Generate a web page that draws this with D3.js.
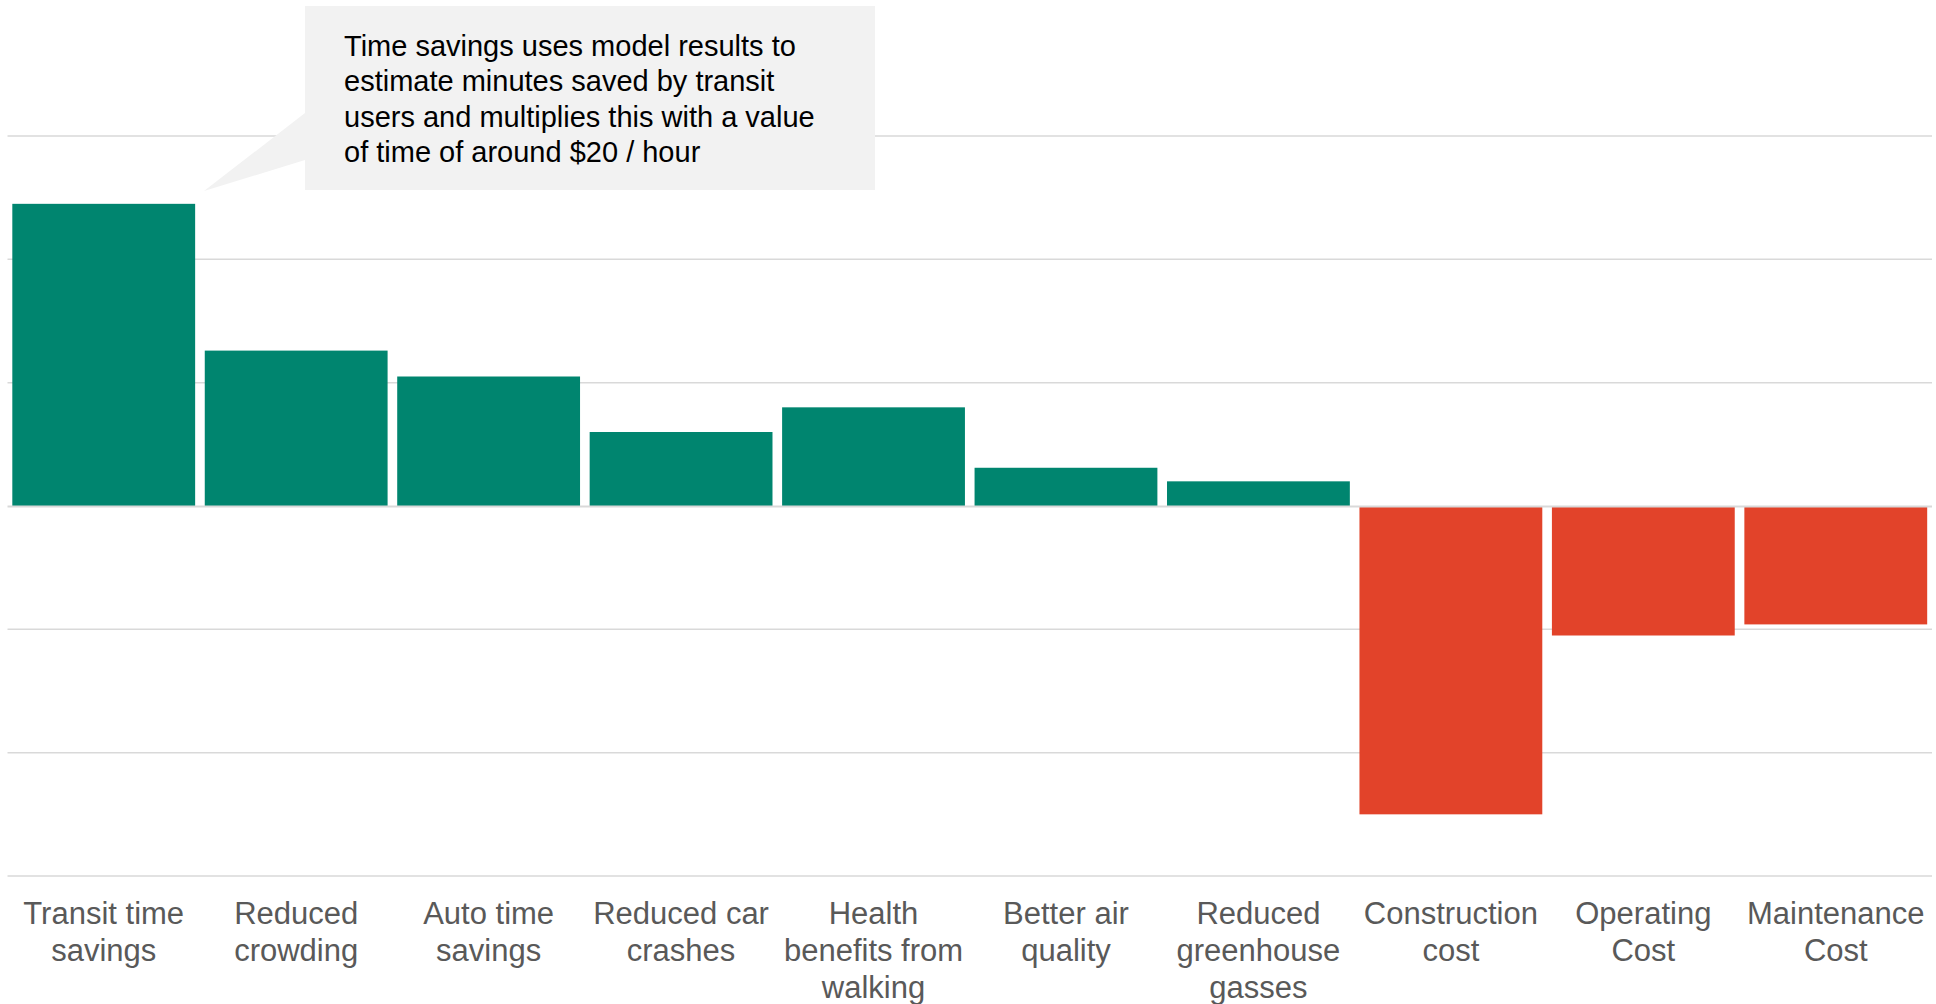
<!DOCTYPE html>
<html>
<head>
<meta charset="utf-8">
<script src="https://cdn.jsdelivr.net/npm/d3@7/dist/d3.min.js"></script>
<style>
  html, body { margin: 0; padding: 0; background: #ffffff; }
  svg { display: block; }
  text { font-family: "Liberation Sans", Arial, Helvetica, sans-serif; }
</style>
</head>
<body>
<svg id="chart" width="1936" height="1004"></svg>
<script>
// ---- data ----
const categories = [
  "Transit time savings", "Reduced crowding", "Auto time savings",
  "Reduced car crashes", "Health benefits from walking", "Better air quality",
  "Reduced greenhouse gasses", "Construction cost", "Operating Cost", "Maintenance Cost"
];
const labelLines = [
  ["Transit time", "savings"],
  ["Reduced", "crowding"],
  ["Auto time", "savings"],
  ["Reduced car", "crashes"],
  ["Health", "benefits from", "walking"],
  ["Better air", "quality"],
  ["Reduced", "greenhouse", "gasses"],
  ["Construction", "cost"],
  ["Operating", "Cost"],
  ["Maintenance", "Cost"]
];
const values = [2.45, 1.26, 1.05, 0.60, 0.80, 0.31, 0.20, -2.50, -1.05, -0.96];
const gridTicks = [-3, -2, -1, 0, 1, 2, 3];
const calloutLines = [
  "Time savings uses model results to",
  "estimate minutes saved by transit",
  "users and multiplies this with a value",
  "of time of around $20 / hour"
];

// ---- chart ----
const svg = d3.select("#chart");

const x = d3.scaleBand()
  .domain(categories)
  .range([7.5, 1932])
  .paddingInner(0.05)
  .paddingOuter(0.025);

const y = d3.scaleLinear().domain([-3, 3]).range([876, 136]);

// gridlines
svg.append("g").selectAll("line")
  .data(gridTicks.filter(d => d !== 0))
  .join("line")
  .attr("x1", 7.5).attr("x2", 1932)
  .attr("y1", d => y(d)).attr("y2", d => y(d))
  .attr("stroke", "#d9d9d9").attr("stroke-width", 1.5);

// bars
const data = categories.map((c, i) => ({ c, v: values[i], lines: labelLines[i] }));
svg.append("g").selectAll("rect")
  .data(data)
  .join("rect")
  .attr("x", d => x(d.c))
  .attr("width", x.bandwidth())
  .attr("y", d => d.v >= 0 ? y(d.v) : y(0))
  .attr("height", d => Math.abs(y(d.v) - y(0)))
  .attr("fill", d => d.v >= 0 ? "#00856f" : "#e2432a");

// zero line
svg.append("line")
  .attr("x1", 7.5).attr("x2", 1932)
  .attr("y1", y(0) + 0.5).attr("y2", y(0) + 0.5)
  .attr("stroke", "#d9d9d9").attr("stroke-width", 2);

// category labels
const lab = svg.append("g").selectAll("text")
  .data(data)
  .join("text")
  .attr("text-anchor", "middle")
  .attr("fill", "#595959")
  .attr("font-size", 31)
  .attr("x", d => x(d.c) + x.bandwidth() / 2)
  .attr("y", 924);
lab.selectAll("tspan")
  .data(d => d.lines.map(l => ({ l, cx: x(d.c) + x.bandwidth() / 2 })))
  .join("tspan")
  .attr("x", d => d.cx)
  .attr("dy", (d, i) => i === 0 ? 0 : 37)
  .text(d => d.l);

// callout
const call = svg.append("g");
call.append("path")
  .attr("d", "M305,113 L204,191 L305,160 Z")
  .attr("fill", "#f2f2f2");
call.append("rect")
  .attr("x", 305).attr("y", 6).attr("width", 570).attr("height", 184)
  .attr("fill", "#f2f2f2");
call.append("text")
  .attr("fill", "#000000")
  .attr("font-size", 29)
  .selectAll("tspan")
  .data(calloutLines)
  .join("tspan")
  .attr("x", 344)
  .attr("y", (d, i) => 56 + i * 35.3)
  .text(d => d);
</script>
</body>
</html>
